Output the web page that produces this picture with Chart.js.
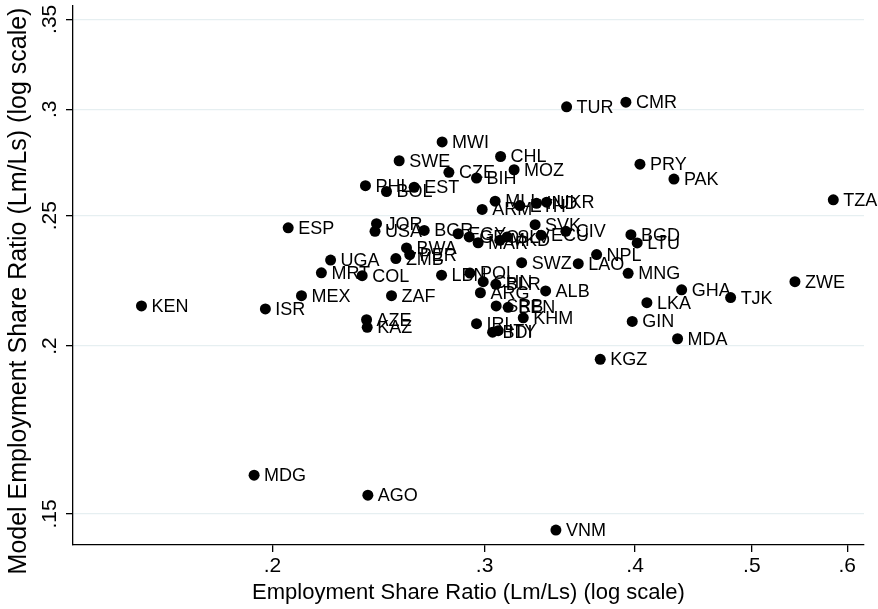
<!DOCTYPE html>
<html lang="en">
<head>
    <meta charset="UTF-8">
    <title>Employment Share Ratio</title>
    <script src="https://cdn.jsdelivr.net/npm/chart.js"></script>
    <style>
        body { margin: 0; background: #fff; }
        #wrap { width: 878px; height: 609px; }
    </style>
</head>
<body>
    <div id="wrap"><canvas id="scatter" width="878" height="609"></canvas></div>

    <script>
        // Country codes and values
        const countries = ['KEN','ISR','MDG','AGO','VNM','ESP','JOR','USA','BGR','EGY',
            'GEO','MAR','MKD','SLV','ECU','SVK','CIV','BWA','PER','ZMB',
            'UGA','MRT','COL','LBN','POL','CHN','BLR','ARG','ALB','SWZ',
            'LAO','NPL','MNG','MEX','ZAF','SRB','BEN','AZE','KAZ','IRL',
            'KHM','BDI','ITY','KGZ','GIN','LKA','GHA','TJK','ZWE','MDA',
            'TZA','BGD','LTU','PAK','PRY','TUR','CMR','MWI','SWE','CHL',
            'CZE','MOZ','BIH','PHL','BOL','EST','MLI','ETH','IND','UKR','ARM'];
        const empRatio = [0.1557,0.1973,0.1931,0.2400,0.3438,0.2061,0.2440,0.2433,0.2673,0.2852,
            0.2913,0.2963,0.3089,0.3132,0.3342,0.3304,0.3504,0.2584,0.2600,0.2532,
            0.2235,0.2196,0.2374,0.2763,0.2917,0.2992,0.3065,0.2976,0.3371,0.3220,
            0.3588,0.3716,0.3947,0.2114,0.2511,0.3067,0.3138,0.2394,0.2397,0.2954,
            0.3230,0.3046,0.3079,0.3742,0.3978,0.4091,0.4372,0.4801,0.5429,0.4338,
            0.5842,0.3968,0.4016,0.4308,0.4037,0.3509,0.3930,0.2766,0.2548,0.3093,
            0.2802,0.3174,0.2954,0.2389,0.2487,0.2622,0.3061,0.3209,0.3313,0.3377,0.2986];
        const modelRatio = [0.2142,0.2131,0.1603,0.1549,0.1459,0.2449,0.2466,0.2434,0.2438,0.2424,
            0.2411,0.2387,0.2397,0.2411,0.2418,0.2462,0.2434,0.2366,0.2339,0.2323,
            0.2317,0.2267,0.2256,0.2258,0.2266,0.2233,0.2223,0.2191,0.2198,0.2307,
            0.2303,0.2339,0.2265,0.2180,0.2180,0.2142,0.2137,0.2092,0.2065,0.2078,
            0.2099,0.2048,0.2053,0.1955,0.2086,0.2154,0.2202,0.2173,0.2233,0.2025,
            0.2569,0.2420,0.2386,0.2662,0.2731,0.3013,0.3037,0.2837,0.2747,0.2767,
            0.2693,0.2705,0.2667,0.2632,0.2606,0.2625,0.2563,0.2544,0.2554,0.2559,0.2527];

        const xTicks = [0.2, 0.3, 0.4, 0.5, 0.6];
        const yTicks = [0.15, 0.2, 0.25, 0.3, 0.35];
        const yTitle = 'Model Employment Share Ratio (Lm/Ls) (log scale)';

        const FONT = "'Liberation Sans', Arial, sans-serif";
        const fmt = v => String(v).replace(/^0/, '');

        const points = countries.map((c, i) => ({ x: empRatio[i], y: modelRatio[i] }));

        // draws the country code next to each marker, the rotated y tick labels and y title
        const labelPlugin = {
            id: 'labels',
            afterDatasetsDraw(chart) {
                const ctx = chart.ctx;
                const meta = chart.getDatasetMeta(0);
                ctx.save();
                ctx.fillStyle = '#000';
                ctx.font = '18px ' + FONT;
                ctx.textAlign = 'left';
                ctx.textBaseline = 'middle';
                meta.data.forEach((pt, i) => {
                    ctx.fillText(countries[i], pt.x + 10, pt.y + 1);
                });
                ctx.restore();
            },
            afterDraw(chart) {
                const ctx = chart.ctx;
                const yScale = chart.scales.y;
                ctx.save();
                ctx.fillStyle = '#000';
                ctx.textAlign = 'center';
                ctx.textBaseline = 'middle';
                ctx.font = '21px ' + FONT;
                yTicks.forEach(v => {
                    const py = yScale.getPixelForValue(v);
                    ctx.save();
                    ctx.translate(50, py);
                    ctx.rotate(-Math.PI / 2);
                    ctx.fillText(fmt(v), 0, 0);
                    ctx.restore();
                });
                ctx.font = '25px ' + FONT;
                ctx.translate(19, 291);
                ctx.rotate(-Math.PI / 2);
                ctx.fillText(yTitle, 0, 0);
                ctx.restore();
            }
        };

        new Chart(document.getElementById('scatter'), {
            type: 'scatter',
            data: {
                datasets: [{
                    data: points,
                    backgroundColor: '#000',
                    borderWidth: 0,
                    pointRadius: 5.5,
                    pointHoverRadius: 5.5
                }]
            },
            options: {
                responsive: false,
                animation: false,
                events: [],
                layout: { padding: { top: 2, right: 14, left: 0, bottom: 0 } },
                plugins: { legend: { display: false }, tooltip: { enabled: false } },
                scales: {
                    x: {
                        type: 'logarithmic',
                        min: 0.1366,
                        max: 0.6195,
                        afterBuildTicks: s => { s.ticks = xTicks.map(v => ({ value: v })); },
                        afterFit: s => { s.height = 64; },
                        border: { color: '#000', width: 1.3 },
                        grid: { drawOnChartArea: false, tickColor: '#000', tickLength: 7, lineWidth: 1.3 },
                        ticks: {
                            color: '#000',
                            font: { family: FONT, size: 21 },
                            padding: 2,
                            maxRotation: 0,
                            autoSkip: false,
                            callback: v => fmt(v)
                        },
                        title: {
                            display: true,
                            text: 'Employment Share Ratio (Lm/Ls) (log scale)',
                            color: '#000',
                            font: { family: FONT, size: 22 },
                            padding: { top: 0, bottom: 3 }
                        }
                    },
                    y: {
                        type: 'logarithmic',
                        min: 0.14222,
                        max: 0.3584,
                        afterBuildTicks: s => { s.ticks = yTicks.map(v => ({ value: v })); },
                        afterFit: s => { s.width = 73; },
                        border: { color: '#000', width: 1.3 },
                        grid: { color: '#e6eff1', tickColor: '#000', tickLength: 7, lineWidth: 1.3 },
                        ticks: { display: false },
                        title: { display: false }
                    }
                }
            },
            plugins: [labelPlugin]
        });
    </script>
</body>
</html>
